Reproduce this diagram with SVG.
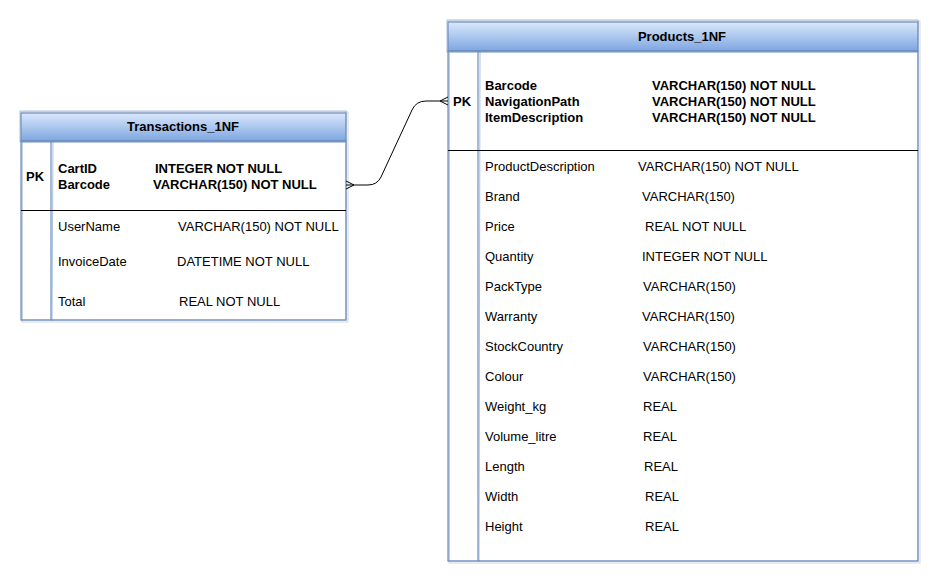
<svg xmlns="http://www.w3.org/2000/svg" width="940" height="584" viewBox="0 0 940 584">
<defs>
<linearGradient id="hg" x1="0" y1="0" x2="0" y2="1">
<stop offset="0" stop-color="#dae8fc"/>
<stop offset="1" stop-color="#7ea6e0"/>
</linearGradient>
<style>
text{font-family:"Liberation Sans",Arial,sans-serif;font-size:13px;fill:#000}
.b{font-weight:bold}
.hd{fill:url(#hg);stroke:#6c8ebf;stroke-width:1.2}
.bx{fill:none;stroke:#6c8ebf;stroke-width:1.2}
.bx2{fill:none;stroke:#6c8ebf;stroke-width:0.8;opacity:0.7}
.sh{fill:none;stroke:#999;stroke-width:0.8;opacity:0.5}
.sep{stroke:#000;stroke-width:1}
.con{fill:none;stroke:#000;stroke-width:1}
</style>
</defs>
<rect width="940" height="584" fill="#fff"/>

<g id="transactions">
<rect class="sh" x="22" y="112" width="326" height="210"/>
<rect class="hd" x="21" y="113" width="325" height="28"/>
<rect class="bx2" x="20" y="111" width="326" height="31"/>
<rect class="bx" x="21" y="141" width="325" height="179"/>
<rect class="bx2" x="22" y="142" width="324" height="178"/>
<line class="bx" x1="51" y1="141" x2="51" y2="320"/>
<line class="bx2" x1="53" y1="140" x2="52" y2="321"/>
<line class="sep" x1="21" y1="210.5" x2="346" y2="210.5"/>
<text class="b" x="183" y="131" text-anchor="middle">Transactions_1NF</text>
<text class="b" x="26" y="181">PK</text>
<text class="b" x="58" y="173">CartID</text>
<text class="b" x="155" y="173">INTEGER NOT NULL</text>
<text class="b" x="58" y="189">Barcode</text>
<text class="b" x="153" y="189">VARCHAR(150) NOT NULL</text>
<text x="58" y="231">UserName</text>
<text x="178" y="231">VARCHAR(150) NOT NULL</text>
<text x="58" y="266">InvoiceDate</text>
<text x="177" y="266">DATETIME NOT NULL</text>
<text x="58" y="306">Total</text>
<text x="179" y="306">REAL NOT NULL</text>
</g>

<g id="products">
<rect class="sh" x="449" y="21" width="471" height="542"/>
<rect class="hd" x="448" y="22" width="470" height="29"/>
<rect class="bx2" x="447" y="20" width="471" height="32"/>
<rect class="bx" x="448" y="51" width="470" height="510"/>
<rect class="bx2" x="449" y="52" width="469" height="509"/>
<line class="bx" x1="478" y1="51" x2="478" y2="561"/>
<line class="bx2" x1="480" y1="50" x2="479" y2="562"/>
<line class="sep" x1="448" y1="150.5" x2="918" y2="150.5"/>
<text class="b" x="682" y="41" text-anchor="middle">Products_1NF</text>
<text class="b" x="453" y="106">PK</text>
<text class="b" x="485" y="90">Barcode</text>
<text class="b" x="652" y="90">VARCHAR(150) NOT NULL</text>
<text class="b" x="485" y="106">NavigationPath</text>
<text class="b" x="652" y="106">VARCHAR(150) NOT NULL</text>
<text class="b" x="485" y="122">ItemDescription</text>
<text class="b" x="652" y="122">VARCHAR(150) NOT NULL</text>
<text x="485" y="171">ProductDescription</text>
<text x="638" y="171">VARCHAR(150) NOT NULL</text>
<text x="485" y="201">Brand</text>
<text x="642" y="201">VARCHAR(150)</text>
<text x="485" y="231">Price</text>
<text x="645" y="231">REAL NOT NULL</text>
<text x="485" y="261">Quantity</text>
<text x="642" y="261">INTEGER NOT NULL</text>
<text x="485" y="291">PackType</text>
<text x="643" y="291">VARCHAR(150)</text>
<text x="485" y="321">Warranty</text>
<text x="642" y="321">VARCHAR(150)</text>
<text x="485" y="351">StockCountry</text>
<text x="643" y="351">VARCHAR(150)</text>
<text x="485" y="381">Colour</text>
<text x="643" y="381">VARCHAR(150)</text>
<text x="485" y="411">Weight_kg</text>
<text x="643" y="411">REAL</text>
<text x="485" y="441">Volume_litre</text>
<text x="643" y="441">REAL</text>
<text x="485" y="471">Length</text>
<text x="644" y="471">REAL</text>
<text x="485" y="501">Width</text>
<text x="645" y="501">REAL</text>
<text x="485" y="531">Height</text>
<text x="645" y="531">REAL</text>
</g>

<g id="connectors">
<path class="con" d="M346 185 L368 185 Q377 185 381 177 L412 110 Q416 101 426 101 L448 101"/>
<path class="con" d="M346 181 L354 185 L346 189"/>
<path class="con" d="M448 97 L440 101 L448 105"/>
</g>
</svg>
